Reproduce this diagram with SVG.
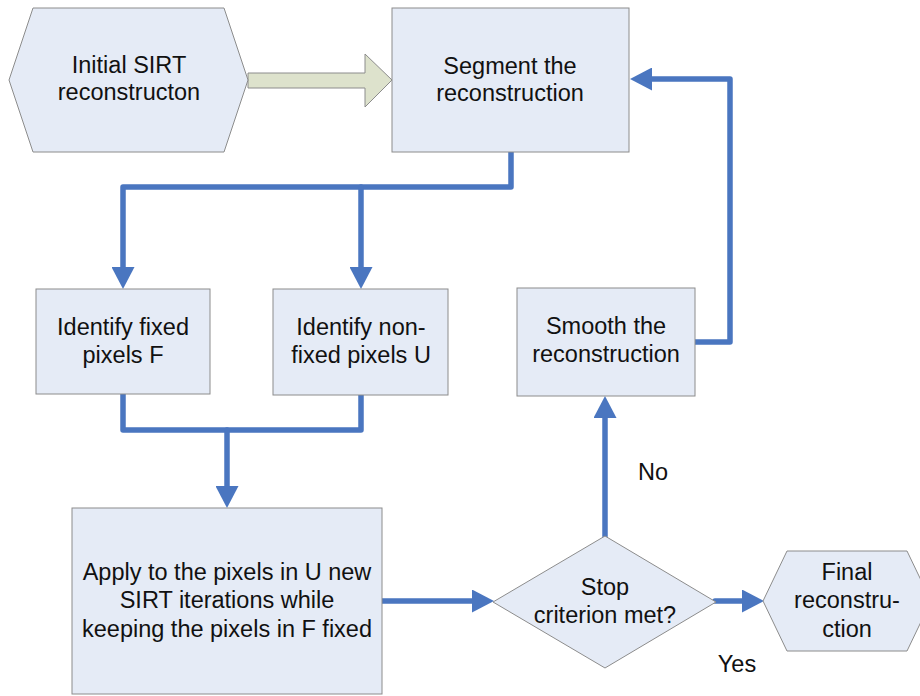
<svg xmlns="http://www.w3.org/2000/svg" width="920" height="696" viewBox="0 0 920 696">
  <defs>
    <marker id="head" markerUnits="userSpaceOnUse" markerWidth="23" markerHeight="23" viewBox="0 0 22 23" refX="3" refY="11.5" orient="auto">
      <path d="M0,0 L22,11.5 L0,23 Z" fill="#4a76c0"/>
    </marker>
    <style>
      .box { fill: #e5ebf6; stroke: #8c8c8c; stroke-width: 1; }
      .lbl { font-family: "Liberation Sans", Arial, sans-serif; font-size: 23.5px; fill: #111; text-anchor: middle; }
      .conn { fill: none; stroke: #4a76c0; stroke-width: 5.5; stroke-linecap: round; stroke-linejoin: round; }
    </style>
  </defs>
  <rect width="920" height="696" fill="#ffffff"/>

  <!-- connectors -->
  <g id="connectors">
    <polygon points="248,73 365,73 365,54 392,80 365,107 365,88 248,88" fill="#dde2cc" stroke="#8c8c8c" stroke-width="1"/>
    <path class="conn" d="M511,152 V187 H123 V270" marker-end="url(#head)"/>
    <path class="conn" d="M361,187 V270" marker-end="url(#head)"/>
    <path class="conn" d="M123,394 V430 H361 V395"/>
    <path class="conn" d="M227,430 V489" marker-end="url(#head)"/>
    <path class="conn" d="M381,601 H475" marker-end="url(#head)"/>
    <path class="conn" d="M715,601 H745" marker-end="url(#head)"/>
    <path class="conn" d="M605,536 V415" marker-end="url(#head)"/>
    <path class="conn" d="M694,342 H730 V79 H649" marker-end="url(#head)"/>
    <text class="lbl" x="653" y="480">No</text>
    <text class="lbl" x="737" y="672">Yes</text>
  </g>

  <g id="initial">
    <polygon class="box" points="33,8 224,8 248,80 224,152 33,152 9,80"/>
    <text class="lbl" x="129" y="73">Initial SIRT</text>
    <text class="lbl" x="129" y="100">reconstructon</text>
  </g>

  <g id="segment">
    <rect class="box" x="392" y="8" width="237" height="144"/>
    <text class="lbl" x="510" y="74">Segment the</text>
    <text class="lbl" x="510" y="101">reconstruction</text>
  </g>

  <g id="fixed">
    <rect class="box" x="36" y="289" width="174" height="105"/>
    <text class="lbl" x="123" y="335">Identify fixed</text>
    <text class="lbl" x="123" y="363">pixels F</text>
  </g>

  <g id="nonfixed">
    <rect class="box" x="273" y="289" width="175" height="106"/>
    <text class="lbl" x="361" y="335">Identify non-</text>
    <text class="lbl" x="361" y="363">fixed pixels U</text>
  </g>

  <g id="apply">
    <rect class="box" x="72" y="508" width="310" height="186"/>
    <text class="lbl" x="227" y="580">Apply to the pixels in U new</text>
    <text class="lbl" x="227" y="608">SIRT iterations while</text>
    <text class="lbl" x="227" y="637">keeping the pixels in F fixed</text>
  </g>

  <g id="stop">
    <polygon class="box" points="493,602 605,536 716,602 605,668"/>
    <text class="lbl" x="605" y="595">Stop</text>
    <text class="lbl" x="605" y="623">criterion met?</text>
  </g>

  <g id="smooth">
    <rect class="box" x="517" y="288" width="178" height="108"/>
    <text class="lbl" x="606" y="334">Smooth the</text>
    <text class="lbl" x="606" y="362">reconstruction</text>
  </g>

  <g id="final">
    <polygon class="box" points="763,601 787,551 907,551 931,601 907,651 787,651"/>
    <text class="lbl" x="847" y="580">Final</text>
    <text class="lbl" x="847" y="608">reconstru-</text>
    <text class="lbl" x="847" y="637">ction</text>
  </g>
</svg>
